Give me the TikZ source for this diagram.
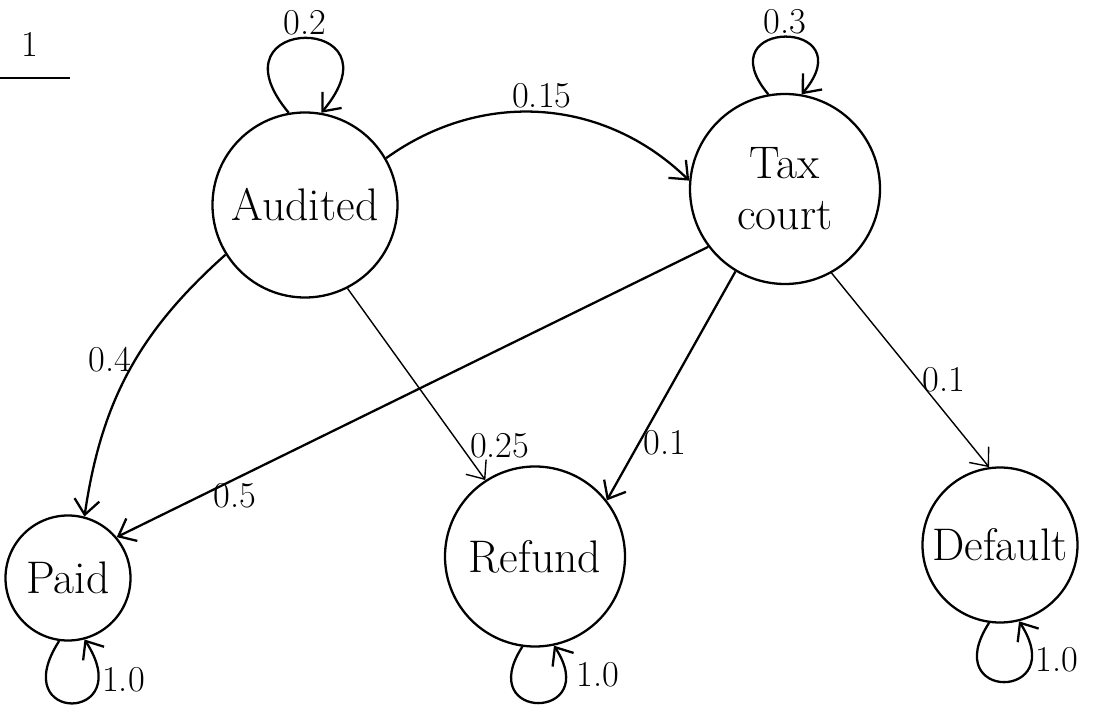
\documentclass[tikz,border=0pt]{standalone}
\usepackage{tikz}
\usetikzlibrary{positioning,arrows.meta}

\begin{document}
\begin{tikzpicture}[
    state/.style={circle, draw=black, line width=1.3pt, font=\fontsize{26}{29}\selectfont,
        align=center, inner sep=0pt},
    arr/.style={-{Straight Barb[length=3mm, width=5mm]}, line width=1.3pt},
    thinarr/.style={-{Straight Barb[length=3mm, width=5mm]}, line width=0.8pt},
    prob/.style={font=\huge, inner sep=2pt},
]
\useasboundingbox (0,0) rectangle (21.9,14.08);

% question number
\node[font=\huge] (qnum) at (0.6,13.2) {1};
\draw[line width=1.3pt] (0,12.52) -- (1.4,12.52);

% states
\node[state, minimum size=3.7cm] (aud) at (6.1,9.98) {Audited};
\node[state, minimum size=3.8cm] (tax) at (15.7,10.3) {Tax\\court};
\node[state, minimum size=2.5cm] (paid) at (1.36,2.52) {Paid};
\node[state, minimum size=3.6cm] (ref) at (10.7,2.95) {Refund};
\node[state, minimum size=3.1cm] (def) at (20.0,3.18) {Default};

% self loops
\draw[arr] (aud.100) .. controls +(130:2.6cm) and +(50:2.6cm) .. node[prob, above, inner sep=1pt] {0.2} (aud.80);
\draw[arr] (tax.100) .. controls +(130:2.0cm) and +(50:2.0cm) .. node[prob, above, inner sep=1pt] {0.3} (tax.80);
\draw[arr] (paid.262) .. controls +(237:2.0cm) and +(-57:2.0cm) .. node[prob, pos=0.8, right] {1.0} (paid.285);
\draw[arr] (ref.262) .. controls +(237:1.8cm) and +(-57:1.8cm) .. node[prob, pos=0.85, right, xshift=4pt] {1.0} (ref.282);
\draw[arr] (def.262) .. controls +(237:1.9cm) and +(-57:1.9cm) .. node[prob, pos=0.8, right] {1.0} (def.284);

% transitions
\draw[arr] (aud.30) to[bend left=40] node[prob, above] {0.15} (tax.175);
\draw[arr] (aud.212) to[bend right=20] node[prob, pos=0.45, left] {0.4} (paid.75);
\draw[thinarr] (aud.297) -- node[prob, pos=0.82, right, xshift=3pt] {0.25} (ref.123);
\draw[arr] (tax.217) -- node[prob, pos=0.8, below] {0.5} (paid.40);
\draw[arr] (tax.239) -- node[prob, pos=0.75, right] {0.1} (ref.38);
\draw[thinarr] (tax.299) -- node[prob, pos=0.55, right] {0.1} (def.98);
\end{tikzpicture}
\end{document}
